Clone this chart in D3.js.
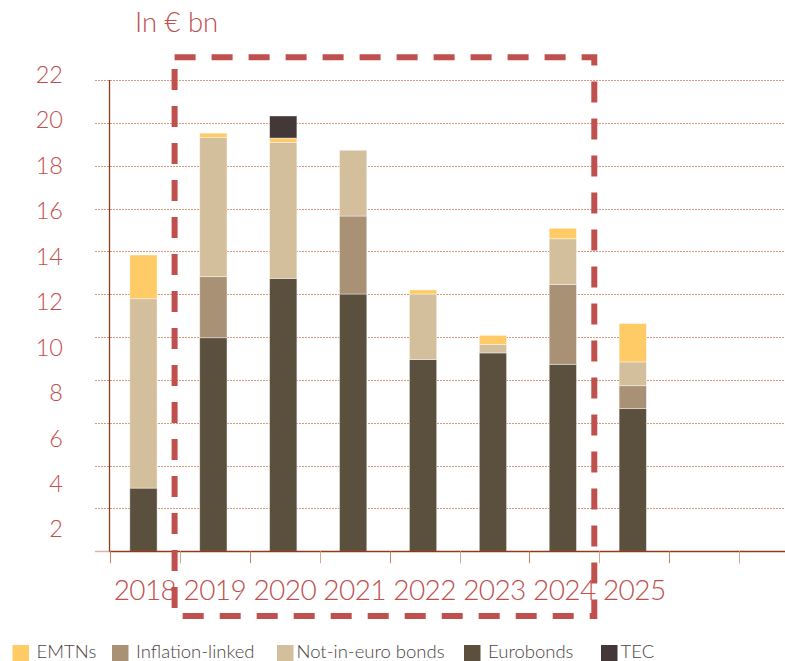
<!DOCTYPE html>
<html>
<head>
<meta charset="utf-8">
<script src="https://cdn.jsdelivr.net/npm/d3@7"></script>
<style>
  html, body { margin: 0; padding: 0; background: #fff; }
  svg { display: block; }
  text { font-family: Lato, "Open Sans", sans-serif; font-weight: 300; }
</style>
</head>
<body>
<svg id="chart" width="785" height="661"></svg>
<script>
// Issuance by instrument, in € bn
const years = ["2018", "2019", "2020", "2021", "2022", "2023", "2024", "2025"];
const spareSlots = ["2026", "2027"];
const eurobonds = [2.95, 9.97, 12.74, 12.01, 8.95, 9.26, 8.73, 6.66];
const inflationLinked = [0, 2.85, 0, 3.64, 0, 0, 3.72, 1.07];
const notInEuro = [8.84, 6.49, 6.35, 3.07, 3.06, 0.40, 2.14, 1.11];
const emtns = [2.04, 0.21, 0.20, 0, 0.19, 0.42, 0.49, 1.79];
const tec = [0, 0, 1.03, 0, 0, 0, 0, 0];

const seriesNames = ["Eurobonds", "Inflation-linked", "Not-in-euro bonds", "EMTNs", "TEC"];
const seriesColors = ["#5b4f3e", "#a89175", "#d4bf9c", "#ffcb66", "#433738"];
const legendOrder = ["EMTNs", "Inflation-linked", "Not-in-euro bonds", "Eurobonds", "TEC"];
const yTickValues = [2, 4, 6, 8, 10, 12, 14, 16, 18, 20, 22];
const titleText = "In € bn";

const rows = years.map((yr, i) => ({
  year: yr,
  "Eurobonds": eurobonds[i],
  "Inflation-linked": inflationLinked[i],
  "Not-in-euro bonds": notInEuro[i],
  "EMTNs": emtns[i],
  "TEC": tec[i]
}));

const svg = d3.select("#chart");
const red = "#c0504d";
const axisColor = "#8e3b17";
const gridColor = "#d49a7e";

const x = d3.scaleBand().domain(years.concat(spareSlots)).range([110, 809]).padding(0);
const y = d3.scaleLinear().domain([0, 22]).range([551.3, 80]);
// tick labels sit on their own, slightly wider, vertical spacing
const yLabel = d3.scaleLinear().domain([2, 22]).range([529, 74.5]);
const color = d3.scaleOrdinal().domain(seriesNames).range(seriesColors);

// gridlines
svg.append("g")
  .selectAll("line")
  .data(yTickValues)
  .join("line")
  .attr("x1", 95).attr("x2", 785)
  .attr("y1", d => Math.round(y(d)) + 0.5).attr("y2", d => Math.round(y(d)) + 0.5)
  .attr("stroke", gridColor)
  .attr("stroke-width", 1)
  .attr("stroke-dasharray", "2,1");

// short tick left of the baseline
svg.append("line")
  .attr("x1", 95).attr("x2", 110)
  .attr("y1", Math.round(y(0)) + 0.5).attr("y2", Math.round(y(0)) + 0.5)
  .attr("stroke", "#dcb3a0").attr("stroke-width", 1.5);

// stacked bars
const stacked = d3.stack().keys(seriesNames)(rows);
const barW = x.bandwidth() * 0.39;
svg.append("g")
  .selectAll("g")
  .data(stacked)
  .join("g")
  .attr("fill", d => color(d.key))
  .selectAll("rect")
  .data(d => d.filter(s => s[1] - s[0] > 0))
  .join("rect")
  .attr("x", d => x(d.data.year) + (x.bandwidth() - barW) / 2 - 1.5)
  .attr("width", barW)
  .attr("y", d => y(d[1]))
  .attr("height", d => y(d[0]) - y(d[1]))
  .attr("stroke", "rgba(255,255,255,0.5)")
  .attr("stroke-width", 0.8);

// axis lines
svg.append("line")
  .attr("x1", 109.5).attr("x2", 109.5)
  .attr("y1", y(22)).attr("y2", y(0))
  .attr("stroke", axisColor).attr("stroke-width", 1.3);
svg.append("line")
  .attr("x1", 109.5).attr("x2", 785)
  .attr("y1", Math.round(y(0)) + 0.5).attr("y2", Math.round(y(0)) + 0.5)
  .attr("stroke", axisColor).attr("stroke-width", 1.3);

// category boundary ticks
const boundaries = years.concat(spareSlots).map(c => x(c));
svg.append("g")
  .selectAll("line")
  .data(boundaries)
  .join("line")
  .attr("x1", d => Math.round(d) + 0.5).attr("x2", d => Math.round(d) + 0.5)
  .attr("y1", y(0)).attr("y2", y(0) + 12)
  .attr("stroke", (d, i) => i % 2 ? "#dba58c" : "#c8825c")
  .attr("stroke-width", 1);

// y tick labels
svg.append("g")
  .selectAll("text")
  .data(yTickValues)
  .join("text")
  .attr("x", 63)
  .attr("y", d => yLabel(d))
  .attr("dy", "0.36em")
  .attr("text-anchor", "end")
  .attr("fill", red)
  .attr("font-size", 23.5)
  .text(d => d);

// year labels
svg.append("g")
  .selectAll("text")
  .data(years)
  .join("text")
  .attr("x", d => x(d) + x.bandwidth() / 2)
  .attr("y", 600)
  .attr("text-anchor", "middle")
  .attr("fill", red)
  .attr("font-size", 28)
  .attr("letter-spacing", -0.6)
  .text(d => d);

// unit title
svg.append("text")
  .attr("x", 135)
  .attr("y", 32)
  .attr("fill", red)
  .attr("font-size", 27.5)
  .text(titleText);

// legend
const legendX = [12.5, 112, 277, 464, 601];
const legend = svg.append("g")
  .selectAll("g")
  .data(legendOrder)
  .join("g")
  .attr("transform", (d, i) => `translate(${legendX[i]},645)`);
legend.append("rect")
  .attr("width", 16.5).attr("height", 16.5)
  .attr("fill", d => color(d));
legend.append("text")
  .attr("x", d => d === "Not-in-euro bonds" || d === "TEC" ? 19.5 : 24)
  .attr("y", 12.5)
  .attr("fill", "#4d4242")
  .attr("font-size", 18.5)
  .text(d => d);

// highlighted period 2019–2024
const boxLeft = x("2019") - 5.3;
const boxRight = x("2025") - 5;
svg.append("rect")
  .attr("x", boxLeft)
  .attr("y", 57.3)
  .attr("width", boxRight - boxLeft)
  .attr("height", 616 - 57.3)
  .attr("fill", "none")
  .attr("stroke", red)
  .attr("stroke-width", 6)
  .attr("stroke-dasharray", "21,16");
</script>
</body>
</html>
